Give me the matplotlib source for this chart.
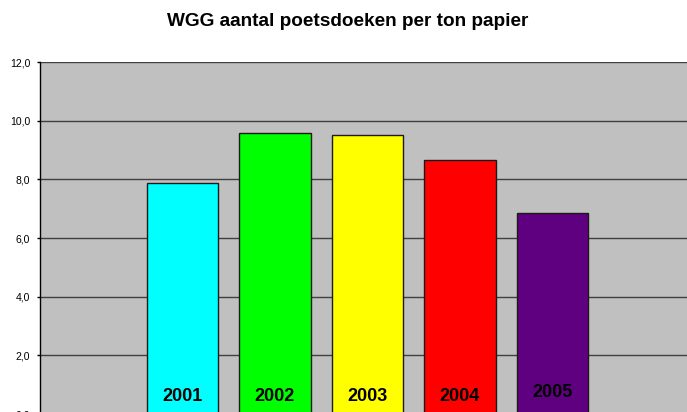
import matplotlib
matplotlib.use("Agg")
import matplotlib.pyplot as plt
from matplotlib.ticker import FuncFormatter

years = ["2001", "2002", "2003", "2004", "2005"]
values = [7.87, 9.57, 9.50, 8.65, 6.85]
colors = ["#00FFFF", "#00FF00", "#FFFF00", "#FF0000", "#5F0080"]
label_y = [0.58, 0.58, 0.58, 0.58, 0.72]
title = "WGG aantal poetsdoeken per ton papier"

W, H = 687, 412
fig = plt.figure(figsize=(W / 100, H / 100), dpi=100)
fig.patch.set_facecolor("white")
plt.rcParams["font.family"] = ["Liberation Sans", "DejaVu Sans"]

# plot area runs off the right and bottom edges like the original screenshot
ax = fig.add_axes([40 / W, -2 / H, 660 / W, 352 / H])
ax.set_facecolor("#C0C0C0")

x = list(range(len(years)))
ax.bar(x, values, width=0.77, color=colors, edgecolor="#1a1a1a", linewidth=1.0, zorder=3)
for xi, yr, ly in zip(x, years, label_y):
    ax.text(xi, ly, yr, ha="center", va="center", fontsize=13, fontweight="bold", zorder=4)

ax.set_xlim(-1.54, -1.54 + 660 / 92.5)
ax.set_ylim(0, 12)
ax.set_yticks([0, 2, 4, 6, 8, 10, 12])
ax.yaxis.set_major_formatter(FuncFormatter(lambda v, p: f"{v:.1f}".replace(".", ",")))
ax.tick_params(axis="y", labelsize=7.5, length=2.5, width=1, color="black", pad=4.5)
ax.set_xticks([])
ax.grid(axis="y", color="#404040", linewidth=1.0, zorder=1)
ax.set_axisbelow(True)
for s in ["top", "right", "bottom"]:
    ax.spines[s].set_visible(False)
ax.spines["left"].set_color("black")
ax.spines["left"].set_linewidth(1.0)

fig.text(348 / W, 1 - 21 / H, title, ha="center", va="center", fontsize=13.7, fontweight="bold")

fig.savefig("out.png", dpi=100)
